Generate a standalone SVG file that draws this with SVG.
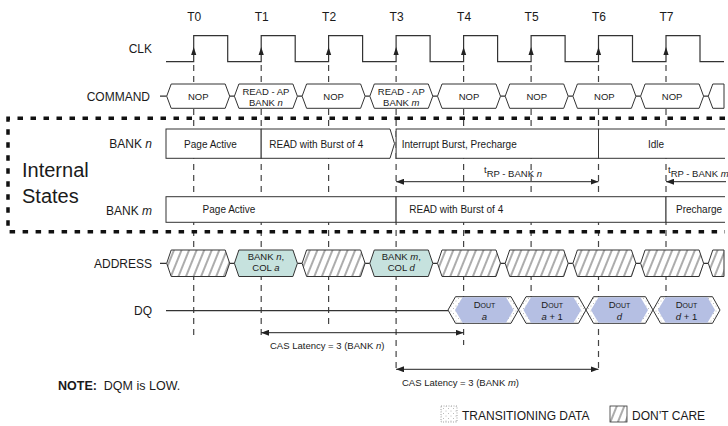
<svg xmlns="http://www.w3.org/2000/svg" width="728" height="426" viewBox="0 0 728 426">
<style>
text{font-family:"Liberation Sans",Arial,sans-serif;fill:#1a1a1a}
.lbl{font-size:12px;text-anchor:end}
.tk{font-size:12px;text-anchor:middle}
.s{font-size:9.5px;text-anchor:middle}
.sl{font-size:10px}
.i{font-style:italic}
.wave{fill:none;stroke:#333;stroke-width:1.2}
.hex{fill:#fff;stroke:#333;stroke-width:1}
.dc{fill:url(#hatch);stroke:#333;stroke-width:1}
.addr{fill:#c6e2de;stroke:#333;stroke-width:1}
.box{fill:#fff;stroke:#333;stroke-width:1}
.guide{fill:none;stroke:#444;stroke-width:1.2;stroke-dasharray:6 5}
.dim{fill:none;stroke:#222;stroke-width:1}
.dout{fill:url(#stip);stroke:#333;stroke-width:1}
.blue{fill:#b5bfe3;stroke:none}
.clkarr{fill:#222}
</style>
<defs>
<pattern id="hatch" patternUnits="userSpaceOnUse" width="7" height="10" patternTransform="rotate(22)">
<rect width="7" height="10" fill="#fff"/>
<line x1="3" y1="0" x2="3" y2="10" stroke="#222" stroke-width="0.75"/>
</pattern>
<pattern id="stip" patternUnits="userSpaceOnUse" width="5" height="5">
<rect width="5" height="5" fill="#fff"/>
<circle cx="1" cy="1" r="0.45" fill="#777"/>
<circle cx="3.5" cy="3.5" r="0.45" fill="#777"/>
</pattern>
<marker id="ah" viewBox="0 0 8 6" refX="8" refY="3" markerWidth="8" markerHeight="6" markerUnits="userSpaceOnUse" orient="auto-start-reverse">
<path d="M0,0 L8,3 L0,6 Z" fill="#222"/>
</marker>
</defs>
<rect width="728" height="426" fill="#fff"/>

<g id="connectors">
<line class="guide" x1="193.7" y1="65" x2="193.7" y2="337"/>
<line class="guide" x1="261.2" y1="65" x2="261.2" y2="337"/>
<line class="guide" x1="328.6" y1="65" x2="328.6" y2="328"/>
<line class="guide" x1="396.1" y1="65" x2="396.1" y2="372"/>
<line class="guide" x1="463.6" y1="65" x2="463.6" y2="345"/>
<line class="guide" x1="531.1" y1="65" x2="531.1" y2="297"/>
<line class="guide" x1="598.5" y1="65" x2="598.5" y2="372"/>
<line class="guide" x1="666" y1="65" x2="666" y2="297"/>
<line class="dim" x1="396.1" y1="181.7" x2="598.5" y2="181.7" marker-start="url(#ah)" marker-end="url(#ah)"/>
<line class="dim" x1="666" y1="181.7" x2="726" y2="181.7" marker-start="url(#ah)"/>
<line class="dim" x1="261.2" y1="332.7" x2="463.6" y2="332.7" marker-start="url(#ah)" marker-end="url(#ah)"/>
<line class="dim" x1="396.1" y1="369.3" x2="598.5" y2="369.3" marker-start="url(#ah)" marker-end="url(#ah)"/>
</g>

<g id="ticks">
<text class="tk" x="194.2" y="20.5">T0</text>
<text class="tk" x="261.7" y="20.5">T1</text>
<text class="tk" x="329.1" y="20.5">T2</text>
<text class="tk" x="396.6" y="20.5">T3</text>
<text class="tk" x="464.1" y="20.5">T4</text>
<text class="tk" x="531.6" y="20.5">T5</text>
<text class="tk" x="599" y="20.5">T6</text>
<text class="tk" x="666.5" y="20.5">T7</text>
</g>

<g id="clk">
<text class="lbl" x="152" y="52.5">CLK</text>
<path class="wave" d="M166,61.7 H193.7 V35.7 H227.7 V61.7 H261.2 V35.7 H295.2 V61.7 H328.6 V35.7 H362.6 V61.7 H396.1 V35.7 H430.1 V61.7 H463.6 V35.7 H497.6 V61.7 H531.1 V35.7 H565.1 V61.7 H598.5 V35.7 H632.5 V61.7 H666 V35.7 H700 V61.7 H724"/>
<path class="clkarr" d="M193.7,47 l-2.6,8 h5.2z M261.2,47 l-2.6,8 h5.2z M328.6,47 l-2.6,8 h5.2z M396.1,47 l-2.6,8 h5.2z M463.6,47 l-2.6,8 h5.2z M531.1,47 l-2.6,8 h5.2z M598.5,47 l-2.6,8 h5.2z M666,47 l-2.6,8 h5.2z"/>
</g>

<g id="command">
<text class="lbl" x="150" y="100.5">COMMAND</text>
<path class="wave" d="M160,96.2 H166.7 M229.7,96.2 H234.4 M297.4,96.2 H302.1 M365.1,96.2 H369.8 M432.8,96.2 H437.5 M500.5,96.2 H505.2 M568.2,96.2 H572.9 M635.9,96.2 H640.6 M703.6,96.2 H708.3"/>
<polygon class="hex" points="166.7,96.2 171.2,84 225.2,84 229.7,96.2 225.2,108.3 171.2,108.3"/>
<polygon class="hex" points="234.4,96.2 238.9,84 292.9,84 297.4,96.2 292.9,108.3 238.9,108.3"/>
<polygon class="hex" points="302.1,96.2 306.6,84 360.6,84 365.1,96.2 360.6,108.3 306.6,108.3"/>
<polygon class="hex" points="369.8,96.2 374.3,84 428.3,84 432.8,96.2 428.3,108.3 374.3,108.3"/>
<polygon class="hex" points="437.5,96.2 442,84 496,84 500.5,96.2 496,108.3 442,108.3"/>
<polygon class="hex" points="505.2,96.2 509.7,84 563.7,84 568.2,96.2 563.7,108.3 509.7,108.3"/>
<polygon class="hex" points="572.9,96.2 577.4,84 631.4,84 635.9,96.2 631.4,108.3 577.4,108.3"/>
<polygon class="hex" points="640.6,96.2 645.1,84 699.1,84 703.6,96.2 699.1,108.3 645.1,108.3"/>
<polygon class="hex" points="708.3,96.2 712.8,84 724,84 724,108.3 712.8,108.3"/>
<text class="s" x="198.2" y="99.8">NOP</text>
<text class="s" x="265.9" y="94.5">READ - AP</text>
<text class="s" x="265.9" y="105.5">BANK <tspan class="i">n</tspan></text>
<text class="s" x="333.6" y="99.8">NOP</text>
<text class="s" x="401.3" y="94.5">READ - AP</text>
<text class="s" x="401.3" y="105.5">BANK <tspan class="i">m</tspan></text>
<text class="s" x="469" y="99.8">NOP</text>
<text class="s" x="536.7" y="99.8">NOP</text>
<text class="s" x="604.4" y="99.8">NOP</text>
<text class="s" x="672.1" y="99.8">NOP</text>
</g>

<g id="internal-states">
<path d="M725,118.3 H8 V231.7 H725" fill="none" stroke="#111" stroke-width="3.5" stroke-dasharray="5.5 7.5"/>
<text x="22" y="176.7" style="font-size:20px">Internal</text>
<text x="22" y="203.3" style="font-size:20px">States</text>
</g>

<g id="bank-n">
<text class="lbl" x="152" y="148">BANK <tspan class="i">n</tspan></text>
<rect class="box" x="166" y="129" width="95.2" height="29.3"/>
<polygon class="box" points="261.2,129 390,129 394.5,143.6 390,158.3 261.2,158.3"/>
<rect class="box" x="396.1" y="129" width="202.4" height="29.3"/>
<path class="box" d="M725,129 H598.5 V158.3 H725"/>
<text class="sl" x="210.5" y="147.5" text-anchor="middle">Page Active</text>
<text class="sl" x="269.3" y="147.5">READ with Burst of 4</text>
<text class="sl" x="401.7" y="147.5">Interrupt Burst, Precharge</text>
<text class="sl" x="656" y="147.5" text-anchor="middle">Idle</text>
</g>

<g id="trp">
<text style="font-size:9.5px" x="484" y="173">t<tspan dy="3.5">RP - BANK </tspan><tspan class="i">n</tspan></text>
<text style="font-size:9.5px" x="668" y="173">t<tspan dy="3.5">RP - BANK </tspan><tspan class="i">m</tspan></text>
</g>

<g id="bank-m">
<text class="lbl" x="152" y="214.5">BANK <tspan class="i">m</tspan></text>
<rect class="box" x="166" y="196.7" width="230.1" height="25.6"/>
<rect class="box" x="396.1" y="196.7" width="269.9" height="25.6"/>
<path class="box" d="M725,196.7 H666 V222.3 H725"/>
<text class="sl" x="229" y="213.3" text-anchor="middle">Page Active</text>
<text class="sl" x="409.3" y="213.3">READ with Burst of 4</text>
<text class="sl" x="676" y="213.3">Precharge</text>
</g>

<g id="address">
<text class="lbl" x="152" y="267.5">ADDRESS</text>
<path class="wave" d="M160,263.3 H166.7 M229.7,263.3 H234.4 M297.4,263.3 H302.1 M365.1,263.3 H369.8 M432.8,263.3 H437.5 M500.5,263.3 H505.2 M568.2,263.3 H572.9 M635.9,263.3 H640.6 M703.6,263.3 H708.3"/>
<polygon class="dc" points="166.7,263.3 171.2,250 225.2,250 229.7,263.3 225.2,276.5 171.2,276.5"/>
<polygon class="addr" points="234.4,263.3 238.9,250 292.9,250 297.4,263.3 292.9,276.5 238.9,276.5"/>
<polygon class="dc" points="302.1,263.3 306.6,250 360.6,250 365.1,263.3 360.6,276.5 306.6,276.5"/>
<polygon class="addr" points="369.8,263.3 374.3,250 428.3,250 432.8,263.3 428.3,276.5 374.3,276.5"/>
<polygon class="dc" points="437.5,263.3 442,250 496,250 500.5,263.3 496,276.5 442,276.5"/>
<polygon class="dc" points="505.2,263.3 509.7,250 563.7,250 568.2,263.3 563.7,276.5 509.7,276.5"/>
<polygon class="dc" points="572.9,263.3 577.4,250 631.4,250 635.9,263.3 631.4,276.5 577.4,276.5"/>
<polygon class="dc" points="640.6,263.3 645.1,250 699.1,250 703.6,263.3 699.1,276.5 645.1,276.5"/>
<polygon class="dc" points="708.3,263.3 712.8,250 724,250 724,276.5 712.8,276.5"/>
<text class="s" x="265.9" y="259.8">BANK <tspan class="i">n</tspan>,</text>
<text class="s" x="265.9" y="271.3">COL <tspan class="i">a</tspan></text>
<text class="s" x="401.3" y="259.8">BANK <tspan class="i">m</tspan>,</text>
<text class="s" x="401.3" y="271.3">COL <tspan class="i">d</tspan></text>
</g>

<g id="dq">
<text class="lbl" x="152" y="315">DQ</text>
<line class="wave" x1="166" y1="310.7" x2="448" y2="310.7"/>
<polygon class="dout" points="448,310 455.5,296.7 511,296.7 518.5,310 511,323.3 455.5,323.3"/>
<polygon class="dout" points="518.5,310 526,296.7 578.5,296.7 586,310 578.5,323.3 526,323.3"/>
<polygon class="dout" points="586,310 593.5,296.7 645.5,296.7 653,310 645.5,323.3 593.5,323.3"/>
<polygon class="dout" points="653,310 660.5,296.7 712.5,296.7 720,310 712.5,323.3 660.5,323.3"/>
<polygon class="blue" points="455,310 462.5,297.2 506,297.2 513.5,310 506,322.8 462.5,322.8"/>
<polygon class="blue" points="523.5,310 531,297.2 573.5,297.2 581,310 573.5,322.8 531,322.8"/>
<polygon class="blue" points="591,310 598.5,297.2 640.5,297.2 648,310 640.5,322.8 598.5,322.8"/>
<polygon class="blue" points="658,310 665.5,297.2 707.5,297.2 715,310 707.5,322.8 665.5,322.8"/>
<text class="s" x="484.5" y="307.5">D<tspan style="font-size:7px">OUT</tspan></text>
<text class="s" x="484.5" y="319.5" font-style="italic">a</text>
<text class="s" x="552.2" y="307.5">D<tspan style="font-size:7px">OUT</tspan></text>
<text class="s" x="552.2" y="319.5"><tspan class="i">a</tspan> + 1</text>
<text class="s" x="619.5" y="307.5">D<tspan style="font-size:7px">OUT</tspan></text>
<text class="s" x="619.5" y="319.5" font-style="italic">d</text>
<text class="s" x="686.5" y="307.5">D<tspan style="font-size:7px">OUT</tspan></text>
<text class="s" x="686.5" y="319.5"><tspan class="i">d</tspan> + 1</text>
</g>

<g id="cas-labels">
<text style="font-size:9.5px" x="270" y="348.5">CAS Latency = 3 (BANK <tspan class="i">n</tspan>)</text>
<text style="font-size:9.5px" x="402" y="386">CAS Latency = 3 (BANK <tspan class="i">m</tspan>)</text>
</g>

<g id="note">
<text style="font-size:12.5px" x="58" y="390"><tspan font-weight="bold">NOTE:</tspan>&#160; DQM is LOW.</text>
</g>

<g id="legend">
<rect x="441" y="406" width="16" height="16" fill="url(#stip)" stroke="#888" stroke-width="0.8" stroke-dasharray="1 1.5"/>
<text style="font-size:12px" x="462" y="420">TRANSITIONING DATA</text>
<rect x="610" y="406" width="17" height="16" fill="url(#hatch)" stroke="#333" stroke-width="0.8"/>
<text style="font-size:12px" x="632" y="420">DON’T CARE</text>
</g>
</svg>
